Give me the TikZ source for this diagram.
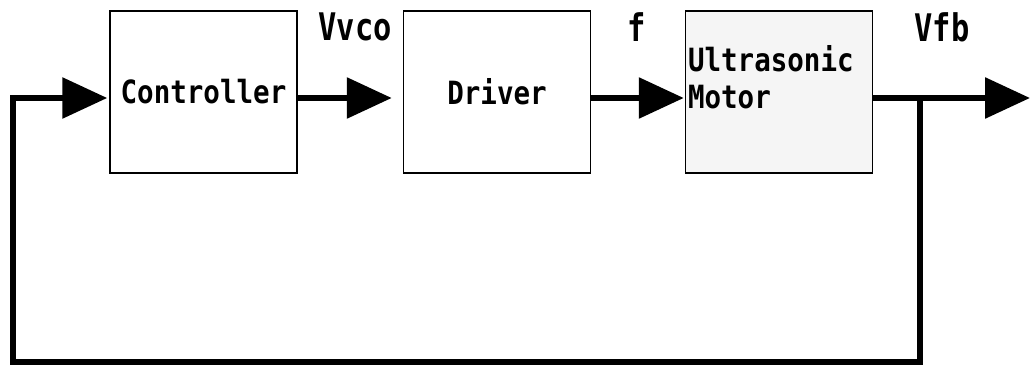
\documentclass[tikz,border=0pt]{standalone}
\usepackage{fontspec}
\newfontfamily\gothic[FakeStretch=0.86]{DejaVu Sans Mono}
\newfontfamily\gothicwide[FakeStretch=0.8]{DejaVu Sans Mono}
\usetikzlibrary{arrows.meta}

\begin{document}
\begin{tikzpicture}[x=1pt,y=-1pt,
  block/.style={draw,line width=1.5pt,minimum width=187pt,minimum height=162pt,
    font=\fontsize{32}{37}\selectfont\gothic\bfseries},
  flow/.style={line width=6pt,-{Triangle[length=45pt,width=40pt]}},
  sig/.style={font=\fontsize{38}{40}\selectfont\gothicwide\bfseries}]

\useasboundingbox (0,0) rectangle (1030,371);

% Blocks of the loop
\node[block] (ctrl) at (203.5,92) {Controller};
\node[block] (drv) at (497,92) {Driver};
\node[block,fill=black!4,align=left,text width=182pt,inner sep=0pt] (usm) at (779,92)
  {Ultrasonic\\Motor\\[-7pt]~};

% Signal names
\node[sig] (vvco) at (355,27) {Vvco};
\node[sig] (f) at (637,27) {f};
\node[sig] (vfb) at (942,27) {Vfb};

% Branch point and output end
\coordinate (tap) at (920,98);
\coordinate (out) at (1030,98);
\coordinate (low) at (13,362);

% Forward path
\draw[flow,shorten >=11pt] (ctrl.east|-tap) -- (drv.west|-tap);
\draw[flow,shorten >=1pt] (drv.east|-tap) -- (usm.west|-tap);
\draw[flow] (usm.east|-tap) -- (out);

% Feedback path
\draw[flow,shorten >=2pt] (tap) |- (low) |- (ctrl.west|-tap);

\end{tikzpicture}
\end{document}
